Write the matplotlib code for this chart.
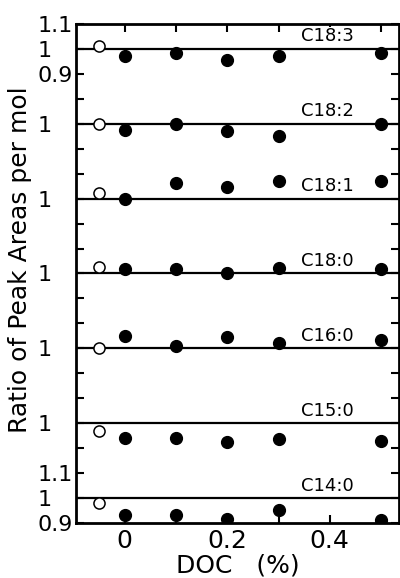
import matplotlib
matplotlib.use("Agg")
from matplotlib import pyplot as plt
from matplotlib.ticker import FixedLocator, FixedFormatter

# DOC concentrations (%) for the filled points, control (open) drawn left of 0
doc = [0, 0.1, 0.2, 0.3, 0.5]
control_x = -0.05

# fatty acids, bottom panel first
acids = ["C14:0", "C15:0", "C16:0", "C18:0", "C18:1", "C18:2", "C18:3"]

# ratios (1 = reference line)
control = [0.98, 0.97, 1.00, 1.024, 1.024, 1.00, 1.012]
treated = [
    [0.93, 0.93, 0.915, 0.95, 0.91],      # C14:0
    [0.94, 0.94, 0.925, 0.935, 0.93],     # C15:0
    [1.05, 1.01, 1.045, 1.02, 1.035],     # C16:0
    [1.016, 1.016, 1.002, 1.02, 1.016],   # C18:0
    [1.0, 1.064, 1.048, 1.07, 1.072],     # C18:1
    [0.976, 1.0, 0.97, 0.95, 1.0],        # C18:2
    [0.97, 0.983, 0.955, 0.97, 0.983],    # C18:3
]

# each panel's "1" sits 0.3 above the previous one
base = 0.1
step = 0.3

plt.rcParams["font.family"] = ["DejaVu Sans"]

fig = plt.figure(figsize=(4.0, 5.78), dpi=100)
ax = fig.add_axes([0.19, 0.0952, 0.8075, 0.8633])

for i, name in enumerate(acids):
    off = base + step * i - 1.0
    ax.axhline(1.0 + off, color="black", lw=1.6, zorder=1)
    ax.plot([control_x], [control[i] + off], "o", ms=8, mfc="white",
            mec="black", mew=1.1, zorder=3)
    ax.plot(doc, [v + off for v in treated[i]], "o", ms=8.5, color="black",
            zorder=3)
    ax.text(0.395, 1.0 + off + 0.05, name, ha="center", va="center",
            fontsize=13, zorder=4,
            bbox=dict(facecolor="white", edgecolor="none", pad=0.5))

ax.set_xlim(-0.095, 0.535)
ax.set_ylim(0, 2.0)

ax.xaxis.set_major_locator(FixedLocator([0, 0.2, 0.4]))
ax.xaxis.set_minor_locator(FixedLocator([0.1, 0.3, 0.5]))
ax.set_xticklabels(["0", "0.2", "0.4"])

# "1" labels padded so the integer digit lines up with the one in "1.1"
one = "1\u2008\u2007"
yt = [round(0.1 * k, 1) for k in range(21)]
labels = {2.0: "1.1", 1.9: one, 1.8: "0.9", 1.6: one, 1.3: one, 1.0: one,
          0.7: one, 0.4: one, 0.2: "1.1", 0.1: one, 0.0: "0.9"}
ax.yaxis.set_major_locator(FixedLocator(yt))
ax.yaxis.set_major_formatter(FixedFormatter([labels.get(t, "") for t in yt]))

ax.tick_params(axis="both", which="both", direction="in", length=6, width=1.5,
               top=True, right=True, pad=3)
ax.tick_params(axis="y", labelsize=16, pad=2)
ax.tick_params(axis="x", labelsize=18, pad=4)

for s in ax.spines.values():
    s.set_linewidth(2.0)

ax.set_ylabel("Ratio of Peak Areas per mol", fontsize=18)
ax.yaxis.set_label_coords(-0.135, 0.527)
ax.set_xlabel("DOC   (%)", fontsize=18, labelpad=1)

fig.savefig("out.png", dpi=100)
